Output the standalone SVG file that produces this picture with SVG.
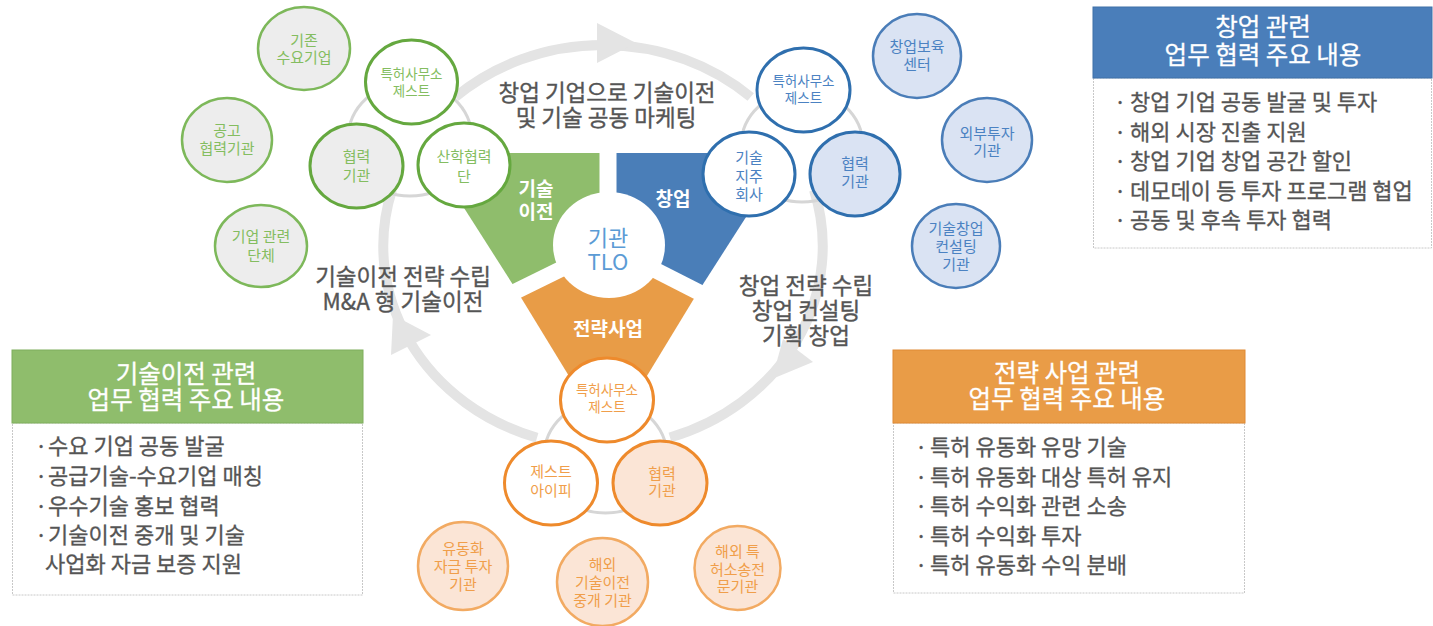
<svg xmlns="http://www.w3.org/2000/svg" width="1433" height="626" viewBox="0 0 1433 626">
<style>
text { font-family: "Noto Sans CJK KR", "Noto Sans", sans-serif; }
.lbl { font-size: 22.5px; fill: #555555; stroke: #555555; stroke-width: 0.35; text-anchor: middle; }
.ct { font-size: 15px; text-anchor: middle; }
.sm { font-size: 13.5px; }
.gt { fill: #84bd60; }
.bt { fill: #4b82c2; }
.ot { fill: #f09e4a; }
.wl { font-size: 19px; font-weight: bold; fill: #ffffff; text-anchor: middle; }
.hd { font-size: 24.5px; fill: #ffffff; stroke: #ffffff; stroke-width: 0.3; text-anchor: middle; }
.bd { font-size: 22px; fill: #555555; stroke: #555555; stroke-width: 0.3; }
.ring { fill: none; stroke: #e4e4e4; stroke-width: 10; }
.arw { fill: #e4e4e4; }
.mini { fill: none; stroke: #d6d6d6; stroke-width: 3; }
.gi { stroke: #65a83f; stroke-width: 3; }
.go { fill: #ededed; stroke: #7db85a; stroke-width: 2.5; }
.bi { stroke: #2f6fae; stroke-width: 3; }
.bo { fill: #dae3f3; stroke: #4a7db8; stroke-width: 2.5; }
.oi { stroke: #ee8a2c; stroke-width: 3; }
.oo { fill: #fbe5d6; stroke: #f2aa62; stroke-width: 2.5; }
.body { fill: #ffffff; stroke: #c8c8c8; stroke-width: 1; stroke-dasharray: 2 1; }
</style>

<g id="connectors">
  <path class="ring" d="M 455.3 97 A 220 201 0 0 1 750.7 97"/>
  <path class="ring" d="M 814 190 A 220 201 0 0 1 670 437.5"/>
  <path class="ring" d="M 537 437.7 A 220 201 0 0 1 392 190"/>
  <polygon class="arw" points="597,23 597,63 636,43"/>
  <polygon class="arw" points="393,315 391,355 431,335"/>
  <polygon class="arw" points="783,339 813,362 772,379"/>
</g>

<g id="center">
  <polygon points="608,246 608,153 429,153 517,291" fill="#8fbd6c"/>
  <polygon points="608,246 608,153 787,153 698,292" fill="#4a7eb8"/>
  <polygon points="608,246 517,291 608,440 698,292" fill="#e89c47"/>
  <line x1="608" y1="246" x2="608" y2="140" stroke="#ffffff" stroke-width="17"/>
  <line x1="608" y1="246" x2="500" y2="299" stroke="#ffffff" stroke-width="16"/>
  <line x1="608" y1="246" x2="716" y2="301" stroke="#ffffff" stroke-width="16"/>
  <ellipse cx="609" cy="245" rx="56" ry="53" fill="#ffffff"/>
  <text class="wl" x="536" y="196">기술<tspan x="536" dy="23">이전</tspan></text>
  <text class="wl" x="673" y="206">창업</text>
  <text class="wl" x="608" y="336">전략사업</text>
  <text x="608" y="246" font-size="22" fill="#5b9bd5" text-anchor="middle">기관<tspan x="608" dy="24">TLO</tspan></text>
</g>

<g id="labels">
  <text class="lbl" x="607" y="101">창업 기업으로 기술이전<tspan x="606" dy="25">및 기술 공동 마케팅</tspan></text>
  <text class="lbl" x="403" y="285">기술이전 전략 수립<tspan x="403" dy="25">M&amp;A 형 기술이전</tspan></text>
  <text class="lbl" x="806" y="294">창업 전략 수립<tspan x="806" dy="25">창업 컨설팅</tspan><tspan x="806" dy="25">기획 창업</tspan></text>
</g>

<!-- green cluster -->
<ellipse class="mini" cx="410" cy="139" rx="62" ry="57"/>
<g id="g-existing">
  <ellipse class="go" cx="304" cy="48.5" rx="46" ry="41.5"/>
  <text class="ct gt" x="304" y="45.5">기존<tspan x="304" dy="17">수요기업</tspan></text>
</g>
<g id="g-gonggo">
  <ellipse class="go" cx="227" cy="140" rx="45" ry="42"/>
  <text class="ct gt" x="227" y="135.5">공고<tspan x="227" dy="18.5">협력기관</tspan></text>
</g>
<g id="g-corp">
  <ellipse class="go" cx="261" cy="246" rx="46" ry="41"/>
  <text class="ct gt" x="261" y="242">기업 관련<tspan x="261" dy="18.5">단체</tspan></text>
</g>
<g id="g-patent">
  <ellipse class="gi" fill="#ffffff" cx="411.5" cy="82" rx="46" ry="42"/>
  <text class="ct sm gt" x="411.5" y="79">특허사무소<tspan x="411.5" dy="17">제스트</tspan></text>
</g>
<g id="g-partner">
  <ellipse class="gi" fill="#ededed" cx="356.5" cy="166" rx="46.5" ry="42"/>
  <text class="ct gt" x="356.5" y="161.5">협력<tspan x="356.5" dy="19">기관</tspan></text>
</g>
<g id="g-sanhak">
  <ellipse class="gi" fill="#ffffff" cx="464" cy="165" rx="46" ry="42"/>
  <text class="ct gt" x="464" y="162">산학협력<tspan x="464" dy="20">단</tspan></text>
</g>

<!-- blue cluster -->
<ellipse class="mini" cx="802" cy="146" rx="61" ry="56"/>
<g id="b-incub">
  <ellipse class="bo" cx="917" cy="56" rx="44" ry="42"/>
  <text class="ct bt" x="917" y="52">창업보육<tspan x="917" dy="17.5">센터</tspan></text>
</g>
<g id="b-invest">
  <ellipse class="bo" cx="987" cy="140" rx="45" ry="42"/>
  <text class="ct bt" x="987" y="139">외부투자<tspan x="987" dy="16.5">기관</tspan></text>
</g>
<g id="b-consult">
  <ellipse class="bo" cx="956" cy="246" rx="44" ry="42"/>
  <text class="ct bt" x="956" y="234">기술창업<tspan x="956" dy="17.5">컨설팅</tspan><tspan x="956" dy="18">기관</tspan></text>
</g>
<g id="b-patent">
  <ellipse class="bi" fill="#ffffff" cx="803.5" cy="90" rx="46.5" ry="42"/>
  <text class="ct sm bt" x="803.5" y="86">특허사무소<tspan x="803.5" dy="16.5">제스트</tspan></text>
</g>
<g id="b-holding">
  <ellipse class="bi" fill="#ffffff" cx="749" cy="174" rx="46" ry="42"/>
  <text class="ct bt" x="749" y="163">기술<tspan x="749" dy="18.5">지주</tspan><tspan x="749" dy="18">회사</tspan></text>
</g>
<g id="b-partner">
  <ellipse class="bi" fill="#dae3f3" cx="855" cy="174" rx="45" ry="42"/>
  <text class="ct bt" x="855" y="169">협력<tspan x="855" dy="18">기관</tspan></text>
</g>

<!-- orange cluster -->
<ellipse class="mini" cx="605.5" cy="456.5" rx="61.5" ry="56.5"/>
<g id="o-fund">
  <ellipse class="oo" cx="463" cy="566" rx="45" ry="44"/>
  <text class="ct ot" x="463" y="554">유동화<tspan x="463" dy="18">자금 투자</tspan><tspan x="463" dy="18">기관</tspan></text>
</g>
<g id="o-overseas">
  <ellipse class="oo" cx="602.5" cy="582" rx="45.5" ry="44"/>
  <text class="ct ot" x="602.5" y="570">해외<tspan x="602.5" dy="18">기술이전</tspan><tspan x="602.5" dy="17.5">중개 기관</tspan></text>
</g>
<g id="o-litig">
  <ellipse class="oo" cx="737.5" cy="568" rx="43" ry="42"/>
  <text class="ct ot" x="737.5" y="557">해외 특<tspan x="737.5" dy="18">허소송전</tspan><tspan x="737.5" dy="17">문기관</tspan></text>
</g>
<g id="o-patent">
  <ellipse class="oi" fill="#ffffff" cx="607" cy="400" rx="46.5" ry="42"/>
  <text class="ct sm ot" x="607" y="395">특허사무소<tspan x="607" dy="16.5">제스트</tspan></text>
</g>
<g id="o-zestip">
  <ellipse class="oi" fill="#ffffff" cx="551" cy="483" rx="46.5" ry="42"/>
  <text class="ct ot" x="551" y="477">제스트<tspan x="551" dy="18.5">아이피</tspan></text>
</g>
<g id="o-partner">
  <ellipse class="oi" fill="#fbe5d6" cx="660" cy="483" rx="47" ry="42"/>
  <text class="ct ot" x="662" y="479">협력<tspan x="662" dy="17">기관</tspan></text>
</g>

<!-- boxes -->
<g id="box-startup">
  <rect class="body" x="1093.5" y="78" width="338" height="170"/>
  <rect x="1093" y="7" width="339" height="71" fill="#4a7eba" stroke="#3f70a8" stroke-width="1"/>
  <text class="hd" x="1263" y="36">창업 관련<tspan x="1263" dy="28">업무 협력 주요 내용</tspan></text>
  <text class="bd" x="1114" y="110">·<tspan x="1114" dy="30">·</tspan><tspan x="1114" dy="29">·</tspan><tspan x="1114" dy="30">·</tspan><tspan x="1114" dy="29">·</tspan></text>
  <text class="bd" x="1130" y="110">창업 기업 공동 발굴 및 투자<tspan x="1130" dy="30">해외 시장 진출 지원</tspan><tspan x="1130" dy="29">창업 기업 창업 공간 할인</tspan><tspan x="1130" dy="30">데모데이 등 투자 프로그램 협업</tspan><tspan x="1130" dy="29">공동 및 후속 투자 협력</tspan></text>
</g>

<g id="box-transfer">
  <rect class="body" x="12.5" y="423" width="350" height="172"/>
  <rect x="12" y="350" width="351" height="73" fill="#8fbd6c" stroke="#7eae5c" stroke-width="1"/>
  <text class="hd" x="186" y="383">기술이전 관련<tspan x="186" dy="26">업무 협력 주요 내용</tspan></text>
  <text class="bd" x="35" y="454">·<tspan x="35" dy="30">·</tspan><tspan x="35" dy="30">·</tspan><tspan x="35" dy="29">·</tspan></text>
  <text class="bd" x="48" y="454">수요 기업 공동 발굴<tspan x="48" dy="30">공급기술-수요기업 매칭</tspan><tspan x="48" dy="30">우수기술 홍보 협력</tspan><tspan x="48" dy="29">기술이전 중개 및 기술</tspan><tspan x="45" dy="29">사업화 자금 보증 지원</tspan></text>
</g>

<g id="box-strategy">
  <rect class="body" x="893.5" y="423" width="351" height="170"/>
  <rect x="893" y="350" width="352" height="73" fill="#e99c47" stroke="#e08a35" stroke-width="1"/>
  <text class="hd" x="1067" y="382">전략 사업 관련<tspan x="1067" dy="26">업무 협력 주요 내용</tspan></text>
  <text class="bd" x="915" y="455">·<tspan x="915" dy="30">·</tspan><tspan x="915" dy="29">·</tspan><tspan x="915" dy="30">·</tspan><tspan x="915" dy="29">·</tspan></text>
  <text class="bd" x="930" y="455">특허 유동화 유망 기술<tspan x="930" dy="30">특허 유동화 대상 특허 유지</tspan><tspan x="930" dy="29">특허 수익화 관련 소송</tspan><tspan x="930" dy="30">특허 수익화 투자</tspan><tspan x="930" dy="29">특허 유동화 수익 분배</tspan></text>
</g>
</svg>
